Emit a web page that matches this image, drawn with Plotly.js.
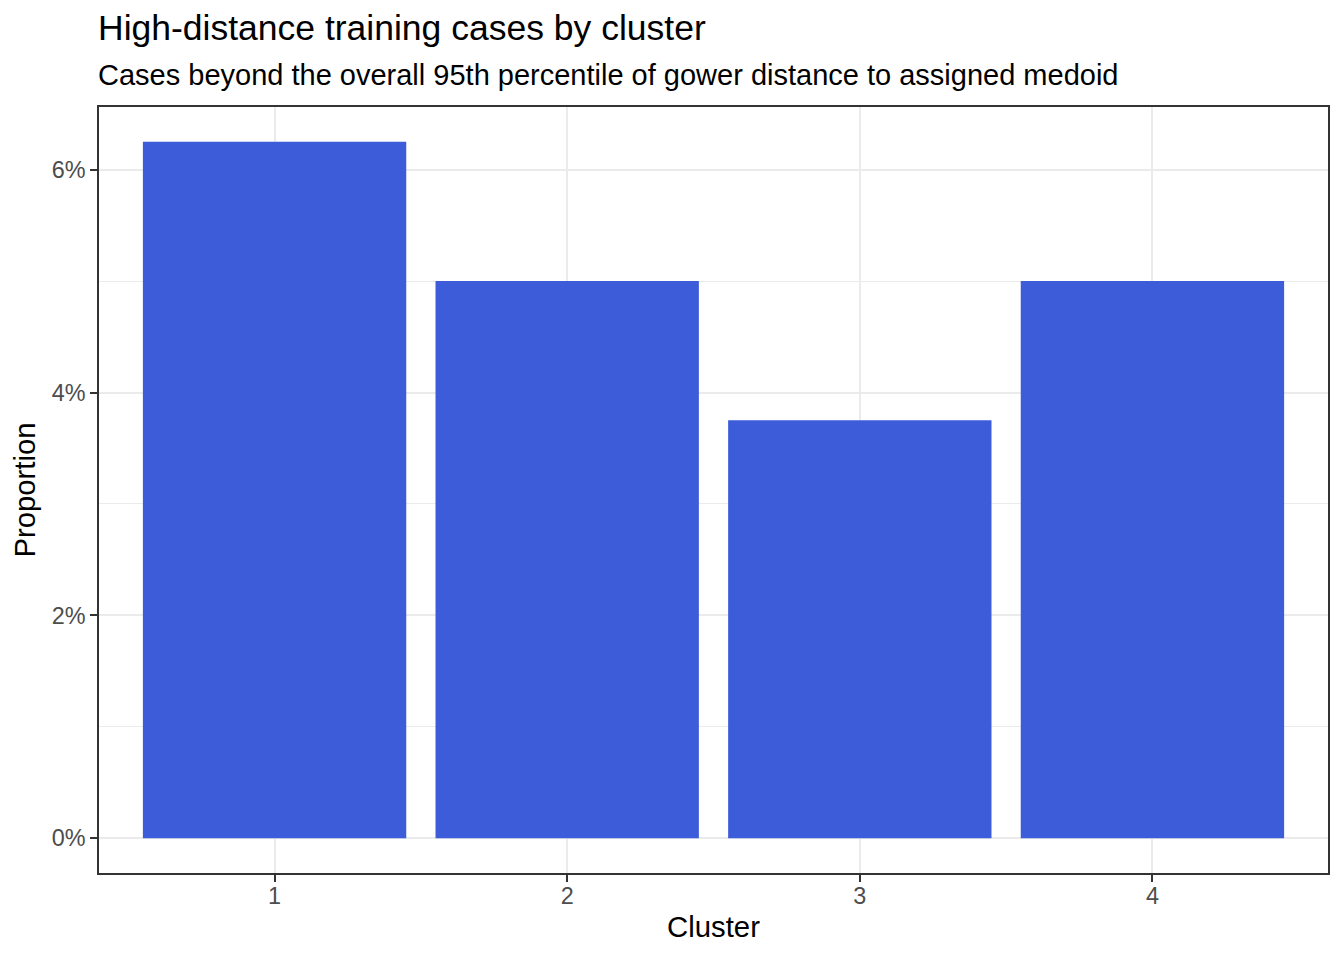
<!DOCTYPE html>
<html>
<head>
<meta charset="utf-8">
<script src="https://cdn.plot.ly/plotly-3.0.1.min.js"></script>
<style>
  html, body { margin: 0; padding: 0; background: #ffffff; }
  #chart { width: 1344px; height: 960px; }
</style>
</head>
<body>
<div id="chart"></div>
<script>
// cluster ids and share of high-distance cases
const clusters = [1, 2, 3, 4];
const proportions = [0.0625, 0.05, 0.0375, 0.05];
const yTickVals = [0, 0.02, 0.04, 0.06];

const fontFamily = "Liberation Sans, Arial, sans-serif";
const barColor = "#3D5CD9";

const traces = [
  {
    type: "bar",
    x: clusters,
    y: proportions,
    width: 0.9,
    marker: { color: barColor, line: { width: 0 } },
    hovertemplate: "Cluster %{x}: %{y:.2%}<extra></extra>",
    showlegend: false
  }
];

const layout = {
  width: 1344,
  height: 960,
  paper_bgcolor: "#ffffff",
  plot_bgcolor: "#ffffff",
  font: { family: fontFamily, color: "#000000" },
  margin: { l: 99, r: 16, t: 107, b: 87, pad: 0 },
  title: {
    text: "High-distance training cases by cluster",
    font: { size: 35.5, color: "#000000" },
    xref: "container", x: 98 / 1344, xanchor: "left",
    yref: "container", y: 1 - 28 / 960, yanchor: "middle"
  },
  annotations: [
    {
      text: "Cases beyond the overall 95th percentile of gower distance to assigned medoid",
      xref: "paper", x: -3 / 1229, xanchor: "left",
      yref: "paper", y: 1 + (107 - 75) / 766, yanchor: "middle",
      showarrow: false,
      font: { size: 29, color: "#000000" }
    }
  ],
  xaxis: {
    range: [0.4, 4.6],
    tickvals: clusters,
    ticktext: clusters.map(String),
    showgrid: true,
    gridcolor: "#EBEBEB",
    gridwidth: 2,
    zeroline: false,
    showline: true,
    mirror: true,
    linecolor: "#333333",
    linewidth: 1.5,
    ticks: "outside",
    ticklen: 7,
    tickwidth: 2,
    tickcolor: "#333333",
    tickfont: { size: 23.4, color: "#4D4D4D" },
    ticklabelstandoff: -6,
    title: { text: "Cluster", font: { size: 29.3, color: "#000000" }, standoff: 9 },
    fixedrange: true
  },
  yaxis: {
    range: [-0.003125, 0.065625],
    tickvals: yTickVals,
    tickformat: ".0%",
    showgrid: true,
    gridcolor: "#EBEBEB",
    gridwidth: 2,
    minor: { dtick: 0.01, tick0: 0, showgrid: true, gridcolor: "#EBEBEB", gridwidth: 1, ticklen: 0 },
    zeroline: false,
    showline: true,
    mirror: true,
    linecolor: "#333333",
    linewidth: 1.5,
    ticks: "outside",
    ticklen: 7,
    tickwidth: 2,
    tickcolor: "#333333",
    tickfont: { size: 23.4, color: "#4D4D4D" },
    title: { text: "Proportion", font: { size: 29.3, color: "#000000" }, standoff: 8 },
    fixedrange: true
  },
  bargap: 0.1
};

Plotly.newPlot("chart", traces, layout, { displayModeBar: false, responsive: false });
</script>
</body>
</html>
